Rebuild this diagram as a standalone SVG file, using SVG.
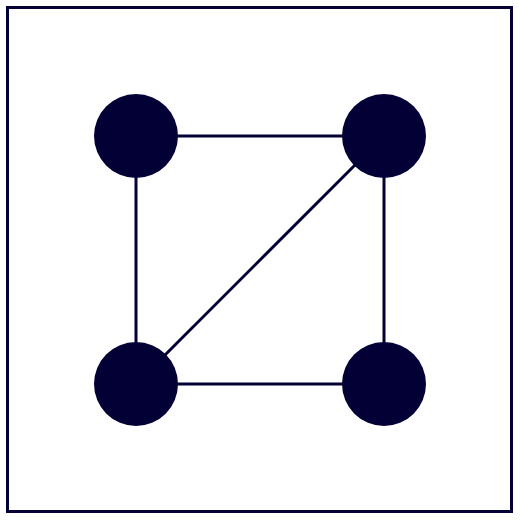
<svg xmlns="http://www.w3.org/2000/svg" width="520" height="520" viewBox="0 0 520 520">
<style>
.node{fill:#030036;}
.edge{stroke:#030036;stroke-width:3;fill:none;}
.frame{stroke:#030036;stroke-width:3;fill:#ffffff;}
</style>
<rect x="0" y="0" width="520" height="520" fill="#ffffff"/>
<rect class="frame" x="7.5" y="7.5" width="504" height="504"/>
<g id="connectors">
<line class="edge" x1="136" y1="136" x2="384" y2="136"/>
<line class="edge" x1="136" y1="136" x2="136" y2="384"/>
<line class="edge" x1="384" y1="136" x2="384" y2="384"/>
<line class="edge" x1="136" y1="384" x2="384" y2="384"/>
<line class="edge" x1="384" y1="136" x2="136" y2="384"/>
</g>
<g id="node-tl"><circle class="node" cx="136" cy="136" r="42"/></g>
<g id="node-tr"><circle class="node" cx="384" cy="136" r="42"/></g>
<g id="node-bl"><circle class="node" cx="136" cy="384" r="42"/></g>
<g id="node-br"><circle class="node" cx="384" cy="384" r="42"/></g>
</svg>
